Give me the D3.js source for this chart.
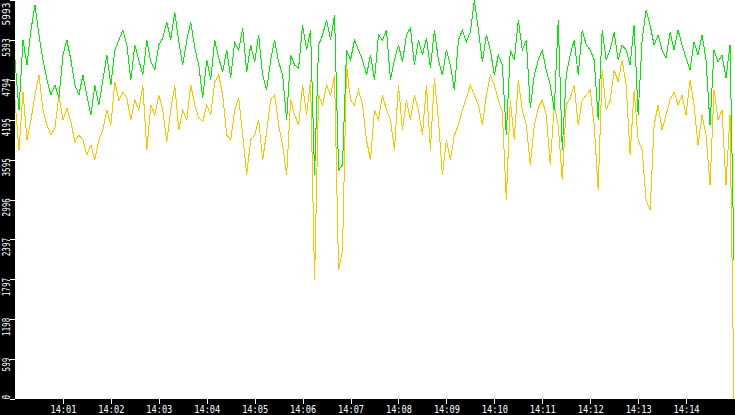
<!DOCTYPE html>
<html>
<head>
<meta charset="utf-8">
<script src="https://cdn.jsdelivr.net/npm/d3@7"></script>
<style>
  html, body { margin: 0; padding: 0; background: #000; overflow: hidden; }
  svg { display: block; }
</style>
</head>
<body>
<script>
// samples every 5 s from 14:00:00 to 14:15:00
const startTime = new Date(2020, 0, 1, 14, 0, 0);
const stepSeconds = 5;

const greenValues = [
  5092, 4341, 5392, 5017, 5542, 5918, 5467, 5092, 4791, 4566, 4716, 4521, 5167, 5392, 5092, 4716,
  4566, 4866, 4566, 4266, 4716, 4416, 4791, 5167, 4716, 5242, 5392, 5542, 5317, 4791, 5317, 5092,
  4866, 5392, 5062, 4942, 5317, 5422, 5663, 5392, 5813, 5362, 5017, 5392, 5663, 5272, 5017, 4521,
  5092, 4791, 5392, 5122, 4912, 5242, 4821, 5362, 5242, 5572, 4912, 5317, 5062, 5467, 4866, 4641,
  5092, 5392, 5062, 4866, 4191, 5167, 5017, 4972, 5617, 5242, 5542, 3364, 5317, 5467, 5693, 5392,
  5768, 3440, 3515, 5242, 5092, 5392, 5242, 5092, 4866, 5167, 4791, 5467, 5392, 5542, 4791, 5092,
  5317, 5062, 5467, 5572, 5017, 5392, 5167, 5422, 4972, 5542, 5092, 4866, 5242, 5017, 4641, 5392,
  5542, 5362, 5512, 5993, 5542, 5062, 5467, 5242, 4866, 5167, 5017, 3965, 5242, 5092, 5693, 5242,
  5392, 4371, 4866, 5092, 5242, 4942, 4716, 4341, 5693, 3740, 4866, 5167, 5392, 4866, 5542, 5317,
  5242, 5092, 4191, 5542, 5092, 5242, 5512, 5092, 5317, 5242, 5017, 5617, 4266, 5392, 5843, 5617,
  5317, 5467, 5242, 5122, 5512, 5242, 5542, 5317, 5122, 4942, 5362, 5167, 5467, 5092, 4115, 5242,
  5062, 5167, 4821, 5317, 2088
];

const yellowValues = [
  4491, 3740, 4611, 3890, 4191, 4566, 4866, 4341, 4115, 3965, 4070, 4566, 4191, 4371, 4161, 3860,
  3965, 3890, 3665, 3815, 3590, 3890, 4040, 4341, 4115, 4761, 4491, 4611, 4521, 4191, 4491, 4341,
  4716, 3740, 4416, 4266, 4566, 4341, 3860, 4341, 4716, 4040, 4341, 4191, 4716, 4416, 4221, 4161,
  4416, 4266, 4761, 4866, 4566, 3965, 3890, 4341, 4521, 3965, 3364, 3890, 3965, 4191, 3590, 4010,
  4491, 4566, 4115, 3815, 3364, 4491, 4266, 4115, 4716, 4266, 4791, 1787, 4566, 4416, 4716, 4566,
  4866, 1938, 2238, 5017, 4491, 4416, 4641, 4416, 3890, 3590, 4341, 4191, 4566, 4341, 4191, 3740,
  4716, 4040, 4491, 4191, 4566, 4341, 3965, 4716, 3740, 4821, 4191, 3364, 3890, 3590, 3965, 4115,
  4341, 4521, 4716, 4566, 4416, 4115, 4566, 4866, 4716, 4491, 4311, 2989, 4491, 3890, 4791, 4341,
  4115, 3515, 4115, 4371, 4491, 4266, 3515, 4416, 4115, 3289, 4416, 4521, 4716, 4115, 4491, 4566,
  4641, 4115, 3139, 4942, 4341, 4491, 4942, 4761, 5092, 4716, 3665, 4641, 3890, 3740, 2989, 2839,
  4115, 4416, 4040, 4266, 4491, 4611, 4416, 4566, 4266, 4791, 4416, 3815, 4266, 3965, 3214, 4641,
  4191, 4341, 3214, 4266, 0
];

const yTickLabels = [0, 599, 1198, 1797, 2397, 2996, 3595, 4195, 4794, 5393, 5993];
const xTickLabels = ["14:01", "14:02", "14:03", "14:04", "14:05", "14:06", "14:07",
                     "14:08", "14:09", "14:10", "14:11", "14:12", "14:13", "14:14"];

const width = 735, height = 415;
const plotLeft = 15, plotRight = 734, plotTop = 0, plotBottom = 399;

const svg = d3.select("body").append("svg")
  .attr("width", width)
  .attr("height", height);

svg.append("rect").attr("width", width).attr("height", height).attr("fill", "#000");
svg.append("rect")
  .attr("x", plotLeft).attr("y", plotTop)
  .attr("width", width - plotLeft).attr("height", plotBottom - plotTop)
  .attr("fill", "#fff");

const times = greenValues.map((d, i) => new Date(startTime.getTime() + i * stepSeconds * 1000));
const endTime = times[times.length - 1];

const x = d3.scaleTime().domain([startTime, endTime]).range([plotLeft, plotRight]);
const y = d3.scaleLinear().domain([0, 5993]).range([plotBottom, plotTop]);

const line = d3.line()
  .x((d, i) => x(times[i]))
  .y(d => y(d));

svg.append("path")
  .attr("d", line(yellowValues))
  .attr("fill", "none")
  .attr("stroke", "#ffc400")
  .attr("stroke-width", 1)
  .attr("shape-rendering", "crispEdges");

svg.append("path")
  .attr("d", line(greenValues))
  .attr("fill", "none")
  .attr("stroke", "#00ec00")
  .attr("stroke-width", 1)
  .attr("shape-rendering", "crispEdges");

// x axis
const minuteTicks = xTickLabels.map((d, i) => new Date(startTime.getTime() + (i + 1) * 60000));
const xAxis = d3.axisBottom(x)
  .tickValues(minuteTicks)
  .tickFormat((d, i) => xTickLabels[i])
  .tickSize(5);

const gx = svg.append("g")
  .attr("transform", `translate(0,${plotBottom})`)
  .call(xAxis);
gx.select(".domain").remove();
gx.selectAll("line").attr("stroke", "#fff").attr("shape-rendering", "crispEdges");
gx.selectAll("text")
  .attr("fill", "#fff")
  .attr("y", 14)
  .attr("dy", null)
  .attr("font-family", "DejaVu Sans Mono")
  .attr("font-size", 11)
  .attr("textLength", 26)
  .attr("lengthAdjust", "spacingAndGlyphs");

// y axis
const yAxis = d3.axisLeft(y)
  .tickValues(yTickLabels)
  .tickFormat(d => String(d))
  .tickSize(5);

const gy = svg.append("g")
  .attr("transform", `translate(${plotLeft},0)`)
  .call(yAxis);
gy.select(".domain").remove();
gy.selectAll("line").attr("stroke", "#fff").attr("shape-rendering", "crispEdges");
gy.selectAll("text")
  .attr("fill", "#fff")
  .attr("x", null)
  .attr("dy", null)
  .attr("font-family", "DejaVu Sans Mono")
  .attr("font-size", 11)
  .attr("lengthAdjust", "spacingAndGlyphs")
  .attr("textLength", d => d === 5993 ? 23 : String(d).length * 4.6)
  .attr("text-anchor", d => d === 0 ? "start" : "end")
  .attr("transform", d => {
    if (d === 0) return "translate(-5,0) rotate(-90)";
    if (d === 5993) return "translate(-5,2) rotate(-90)";
    return "translate(-5,-2) rotate(-90)";
  });
</script>
</body>
</html>
